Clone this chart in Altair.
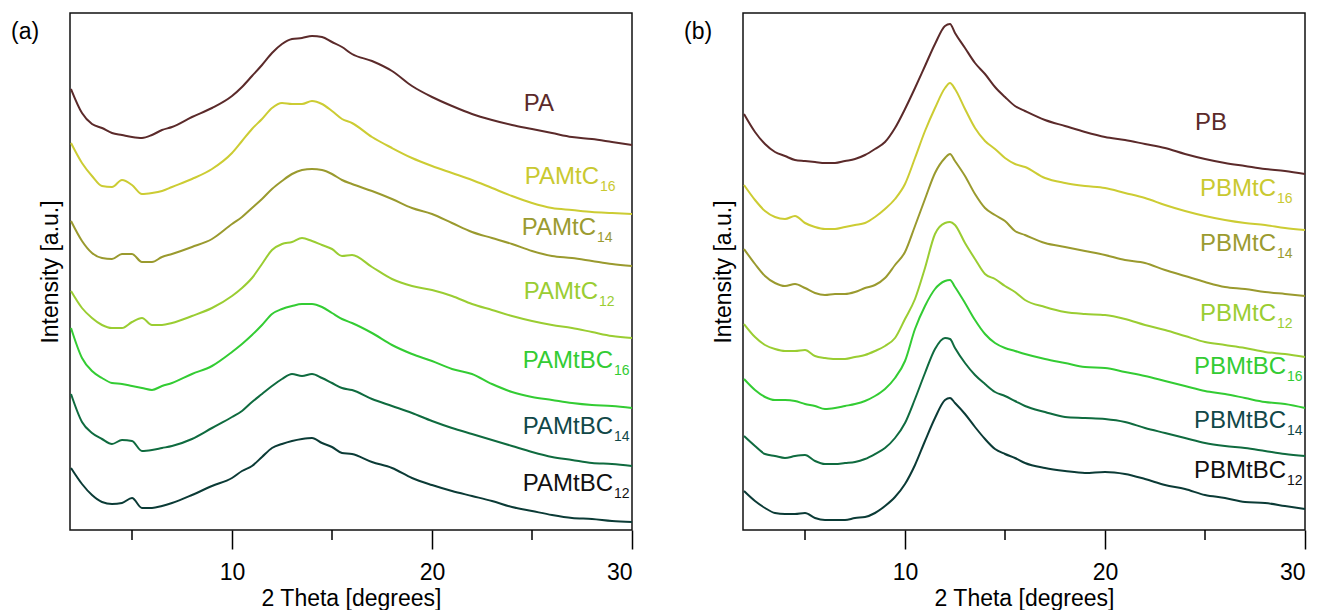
import altair as alt
import pandas as pd

FONT = "Liberation Sans"

# ---------------- panel (a) ----------------
deg_a = [1.95, 2.5, 3, 3.5, 4, 4.5, 5, 5.5, 6, 6.5, 7, 8, 9, 10, 10.5, 11, 11.5, 12, 12.5,
         13, 13.5, 14, 14.5, 15, 15.5, 16, 17, 18, 19, 20, 21, 22, 23, 24, 25, 26, 27, 28, 29, 30]
names_a = ["PA", "PAMtC16", "PAMtC14", "PAMtC12", "PAMtBC16", "PAMtBC14", "PAMtBC12"]
pa = [441, 417, 406, 402, 397, 395, 393, 392, 395, 400, 403, 413, 422, 434, 443, 454, 465, 477, 486,
      491, 492, 494, 493, 488, 483, 476, 469, 459, 444, 433, 424, 416, 410, 405, 401, 397, 393, 391, 388, 385]
pamtc16 = [387, 367, 354, 344, 343, 350, 345, 336, 337, 339, 343, 351, 361, 377, 389, 401, 411, 422, 427,
           426, 426, 429, 426, 419, 411, 407, 393, 382, 372, 364, 357, 350, 342, 334, 327, 322, 320, 318, 317, 316]
pamtc14 = [309, 289, 277, 272, 271, 276, 276, 268, 268, 273, 276, 283, 291, 306, 313, 322, 331, 341, 349,
           356, 360, 361, 360, 356, 350, 346, 339, 331, 322, 316, 307, 298, 292, 286, 279, 274, 272, 269, 266, 264]
pamtc12 = [239, 222, 212, 205, 202, 202, 208, 212, 205, 205, 207, 214, 222, 234, 242, 252, 266, 280, 286,
           288, 292, 289, 285, 281, 274, 275, 263, 251, 244, 240, 234, 226, 220, 214, 209, 205, 202, 198, 194, 192]
pamtbc16 = [202, 172, 159, 152, 147, 146, 144, 142, 140, 144, 147, 156, 164, 178, 186, 195, 205, 216, 221,
            224, 226, 226, 223, 217, 211, 207, 197, 185, 176, 169, 161, 156, 146, 138, 133, 130, 127, 125, 124, 122]
pamtbc14 = [136, 108, 97, 91, 86, 90, 89, 79, 80, 82, 84, 91, 102, 113, 119, 128, 136, 144, 151,
            156, 154, 156, 152, 147, 142, 140, 131, 124, 117, 109, 102, 96, 90, 84, 78, 73, 70, 67, 66, 64]
pamtbc12 = [62, 46, 35, 28, 26, 27, 32, 22, 22, 24, 27, 35, 44, 52, 59, 64, 73, 82, 86,
            89, 91, 92, 87, 83, 77, 76, 68, 62, 52, 45, 39, 34, 29, 23, 19, 15, 12, 11, 9, 8]
series_a = [pa, pamtc16, pamtc14, pamtc12, pamtbc16, pamtbc14, pamtbc12]

lab_main_a = ["PA", "PAMtC", "PAMtC", "PAMtC", "PAMtBC", "PAMtBC", "PAMtBC"]
lab_sub_a = ["", "16", "14", "12", "16", "14", "12"]
lab_x_a = [26.1, 28.35, 28.2, 28.3, 29.05, 29.05, 29.05]
lab_y_a = [419, 346, 295, 231, 162, 96, 39]

# ---------------- panel (b) ----------------
deg_b = [1.95, 2.5, 3, 3.5, 4, 4.5, 5, 5.5, 6, 6.5, 7, 7.5, 8, 8.5, 9, 9.5, 10, 10.5, 11, 11.5, 12,
         12.25, 12.5, 13, 13.5, 14, 14.5, 15, 15.5, 16, 17, 18, 19, 20, 21, 22, 23, 24, 25, 26, 27, 28, 29, 30]
names_b = ["PB", "PBMtC16", "PBMtC14", "PBMtC12", "PBMtBC16", "PBMtBC14", "PBMtBC12"]
pb = [416, 398, 386, 378, 374, 370, 369, 368, 367, 367, 369, 371, 375, 381, 388, 402, 421, 442, 464, 486, 504,
      506, 497, 482, 467, 456, 443, 433, 424, 419, 410, 404, 398, 393, 390, 386, 382, 376, 371, 367, 364, 361, 359, 356]
pbmtc16 = [345, 330, 319, 313, 311, 314, 307, 303, 301, 301, 303, 305, 307, 313, 321, 331, 346, 372, 399, 422, 442,
           447, 441, 421, 402, 389, 381, 372, 366, 363, 352, 347, 344, 342, 337, 332, 325, 319, 314, 310, 307, 305, 302, 300]
pbmtc14 = [281, 266, 254, 247, 244, 246, 242, 237, 235, 236, 236, 238, 242, 245, 252, 265, 278, 304, 331, 357, 372,
           376, 369, 354, 336, 322, 315, 309, 299, 295, 287, 283, 279, 275, 270, 267, 260, 254, 248, 243, 241, 238, 236, 234]
pbmtc12 = [206, 193, 185, 181, 179, 179, 180, 174, 172, 171, 171, 173, 175, 179, 184, 192, 211, 231, 262, 296, 307,
           308, 305, 287, 271, 256, 251, 244, 238, 230, 223, 218, 216, 215, 211, 205, 200, 194, 188, 185, 182, 178, 176, 173]
pbmtbc16 = [151, 140, 133, 130, 130, 129, 126, 124, 121, 122, 124, 126, 129, 134, 141, 152, 169, 201, 224, 241, 249,
            250, 243, 227, 210, 196, 187, 182, 179, 176, 171, 167, 163, 162, 158, 154, 149, 144, 139, 136, 132, 128, 126, 122]
pbmtbc14 = [94, 84, 76, 74, 72, 74, 75, 69, 66, 66, 67, 68, 71, 76, 82, 92, 107, 131, 157, 181, 192,
            191, 182, 167, 155, 146, 138, 134, 129, 124, 118, 113, 112, 111, 108, 102, 97, 92, 87, 84, 82, 79, 76, 74]
pbmtbc12 = [39, 29, 22, 17, 16, 16, 17, 12, 10, 10, 10, 12, 13, 17, 24, 33, 46, 65, 89, 112, 130,
            132, 127, 116, 103, 91, 81, 76, 72, 67, 62, 59, 57, 58, 56, 51, 45, 41, 35, 32, 28, 27, 24, 21]
series_b = [pb, pbmtc16, pbmtc14, pbmtc12, pbmtbc16, pbmtbc14, pbmtbc12]

lab_main_b = ["PB", "PBMtC", "PBMtC", "PBMtC", "PBMtBC", "PBMtBC", "PBMtBC"]
lab_sub_b = ["", "16", "14", "12", "16", "14", "12"]
lab_x_b = [26.1, 28.55, 28.55, 28.55, 29.05, 29.05, 29.05]
lab_y_b = [400, 334, 279, 209, 156, 102, 52]

line_colors = ["#5b2a2a", "#cccc33", "#9a9a2e", "#9acd32", "#33cc33", "#0f6b3f", "#0b3b36"]
label_colors = ["#5b2a2a", "#c9c930", "#9b9b30", "#9acd32", "#33cc33", "#114848", "#111111"]

major_ticks = [10, 20, 30]
minor_ticks = [5, 15, 25]
x_domain = [1.9, 30]
y_domain = [0, 517]


def panel(tag, deg, names, series, mains, subs, lx, ly):
    rows = []
    for n, ys in zip(names, series):
        for d, v in zip(deg, ys):
            rows.append({"deg": d, "I": v, "s": n})
    df = pd.DataFrame(rows)
    lab = pd.DataFrame({"deg": lx, "I": ly, "main": mains, "sub": subs, "lc": label_colors})

    x = alt.X("deg:Q", scale=alt.Scale(domain=x_domain, nice=False, zero=False),
              axis=alt.Axis(values=major_ticks, title="2 Theta [degrees]", format="d",
                            labelPadding=12, titlePadding=3))
    y = alt.Y("I:Q", scale=alt.Scale(domain=y_domain, nice=False, zero=False),
              axis=alt.Axis(labels=False, ticks=False, title="Intensity [a.u.]", titlePadding=8))

    lines = alt.Chart(df).mark_line(strokeWidth=2, interpolate="monotone").encode(
        x=x, y=y,
        color=alt.Color("s:N", scale=alt.Scale(domain=names, range=line_colors), legend=None),
        detail="s:N",
    )
    main_txt = alt.Chart(lab).mark_text(align="right", baseline="alphabetic", font=FONT, fontSize=24).encode(
        x=x, y=y, text="main:N", color=alt.Color("lc:N", scale=None))
    sub_txt = alt.Chart(lab).mark_text(align="left", baseline="alphabetic", font=FONT, fontSize=14,
                                       dx=1, dy=7).encode(
        x=x, y=y, text="sub:N", color=alt.Color("lc:N", scale=None))
    minor = alt.Chart(pd.DataFrame({"deg": minor_ticks})).mark_rule(color="black", strokeWidth=1.5).encode(
        x=x, y=alt.value(517), y2=alt.value(527))
    tag_txt = alt.Chart(pd.DataFrame({"t": [tag]})).mark_text(
        align="left", baseline="alphabetic", font=FONT, fontSize=23, color="black").encode(
        text="t:N", x=alt.value(-59), y=alt.value(26))
    return alt.layer(lines, main_txt, sub_txt, minor, tag_txt).properties(width=562, height=517)


pa_chart = panel("(a)", deg_a, names_a, series_a, lab_main_a, lab_sub_a, lab_x_a, lab_y_a)
pb_chart = panel("(b)", deg_b, names_b, series_b, lab_main_b, lab_sub_b, lab_x_b, lab_y_b)

chart = alt.hconcat(pa_chart, pb_chart, spacing=111, bounds="flush").properties(
    padding={"left": 2, "top": 4, "right": 0, "bottom": 0}
).configure_view(stroke="#111111", strokeWidth=1.5).configure_axis(
    labelFont=FONT, labelFontSize=23, labelColor="black",
    titleFont=FONT, titleFontSize=23, titleFontWeight="normal", titleColor="black",
    tickColor="black", tickWidth=1.5, tickSize=19, domain=False, grid=False,
)

chart.save("out.html", embed_options={"renderer": "svg", "actions": False})
